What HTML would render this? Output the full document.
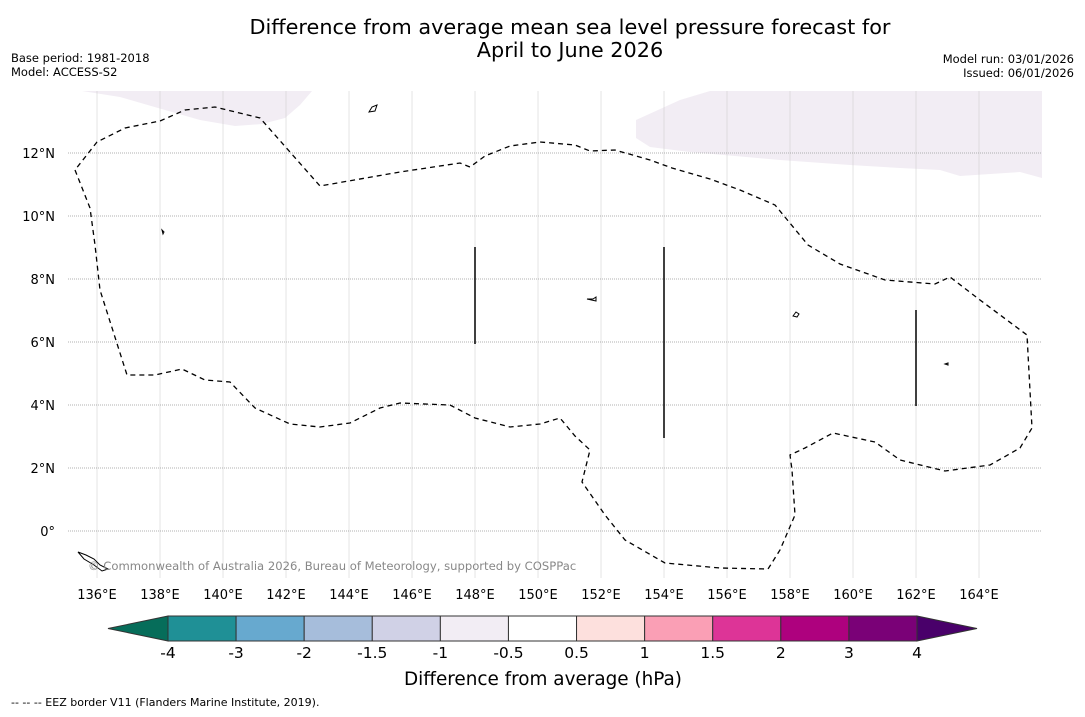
<!DOCTYPE html>
<html><head><meta charset="utf-8"><style>
body{margin:0;background:#fff;width:1085px;height:713px;overflow:hidden;font-family:"DejaVu Sans","Liberation Sans",sans-serif;}
</style></head><body>
<svg id="chart" width="1085" height="713" xmlns="http://www.w3.org/2000/svg" font-family="DejaVu Sans, Liberation Sans, sans-serif">
<text x="570" y="34" font-size="20.8" text-anchor="middle">Difference from average mean sea level pressure forecast for</text>
<text x="570" y="57" font-size="20.8" text-anchor="middle">April to June 2026</text>
<text x="11" y="62" font-size="11.5">Base period: 1981-2018</text>
<text x="11" y="76" font-size="11.5">Model: ACCESS-S2</text>
<text x="1074" y="63" font-size="11.5" text-anchor="end">Model run: 03/01/2026</text>
<text x="1074" y="77" font-size="11.5" text-anchor="end">Issued: 06/01/2026</text>
<g id="map">
<polygon fill="#f2edf4" points="710,91 1042,91 1042,178 1020,172 960,176 940,170 900,168 850,165 780,160 690,152 650,147 636,138 636,120 680,100"/>
<polygon fill="#f2edf4" points="82,91 312,91 300,105 285,118 262,124 235,126 200,120 165,110 120,97"/>
<g id="grid"></g>
<path fill="none" stroke="#000" stroke-width="1.3" stroke-dasharray="5,4" d="M75,170 L90,208 95,245 100,290 127,375 155,375 182,369 205,380 230,382 255,408 290,424 320,427 350,423 380,408 400,403 450,405 475,418 510,427 540,424 560,418 575,436 590,450 585,470 582,482 605,515 625,540 665,563 720,568 768,569 780,550 795,515 792,470 790,455 805,448 833,433 875,442 900,460 945,471 990,465 1020,448 1032,428 1027,335 980,300 950,277 935,284 885,280 840,264 808,245 775,205 740,190 710,179 672,168 650,160 615,150 590,151 575,145 540,142 510,146 485,156 470,167 460,163 400,172 320,186 297,160 260,118 215,107 185,110 160,121 125,128 97,142 75,170"/>
<g stroke="#000" stroke-width="1.5">
<line x1="475" y1="247" x2="475" y2="344"/><line x1="664" y1="247" x2="664" y2="438"/><line x1="916" y1="310" x2="916" y2="406"/>
</g>
<g fill="none" stroke="#000" stroke-width="1">
<path d="M369,112 l3,-5 5,-2 -2,6z"/><path d="M162,230 l2,2 -1,2z"/><path d="M587,299 l6,0 3,-2 0,4z"/><path d="M793,316 l3,-4 3,2 -2,3z"/><path d="M945,364 l3,-1 0,2z"/><path d="M78,552 l8,3 8,4 6,6 8,4 -6,2 -8,-6 -10,-6z"/>
</g>
<text x="88" y="570" font-size="11.6" fill="#888">© Commonwealth of Australia 2026, Bureau of Meteorology, supported by COSPPac</text>
</g>
<g id="axes"></g>
<g id="cbar"></g>
<text x="543" y="685" font-size="18.4" text-anchor="middle">Difference from average (hPa)</text>
<text x="11" y="706" font-size="11">--  --  -- EEZ border V11 (Flanders Marine Institute, 2019).</text>
</svg>
<script>
const lonTicks=[136,138,140,142,144,146,148,150,152,154,156,158,160,162,164];
const latTicks=[12,10,8,6,4,2,0];
const cbBounds=[-4,-3,-2,-1.5,-1,-0.5,0.5,1,1.5,2,3,4];
const cbColors=["#1f9096","#67a9cf","#a6bddb","#d0d1e6","#f2edf4","#ffffff","#fde0dd","#fa9fb5","#dd3497","#ae017e","#7a0177"];
const cbLow="#066d5a", cbHigh="#49006a";
const NS="http://www.w3.org/2000/svg";
const X0=68,X1=1042,Y0=91,Y1=578;
const xLon=l=>97+(l-136)*31.5;
const yLat=l=>531-l*31.5;
function mk(t,a,p){const e=document.createElementNS(NS,t);for(const k in a)e.setAttribute(k,a[k]);p.appendChild(e);return e;}
const grid=document.getElementById('grid'),axes=document.getElementById('axes'),cb=document.getElementById('cbar');
lonTicks.forEach(l=>{
 const g=mk('line',{x1:xLon(l),x2:xLon(l),y1:Y0,y2:Y1,stroke:'#c8c8c8','stroke-width':0.5},grid);
 
 
 const t=mk('text',{x:xLon(l),y:599,'font-size':13,'text-anchor':'middle'},axes);
 t.textContent=l+'°E';
 
 
});
latTicks.forEach(l=>{
 const g=mk('line',{x1:X0,x2:X1,y1:yLat(l),y2:yLat(l),stroke:'#999','stroke-width':0.8,'stroke-dasharray':'1,1'},grid);
 
 
 const t=mk('text',{x:55,y:yLat(l)+5,'font-size':13,'text-anchor':'end'},axes);
 t.textContent=l===0?'0°':l+'°N';
 
 
});
const CX0=168,CX1=917,CY=616,CH=25;
const step=(CX1-CX0)/(cbBounds.length-1);
const cx=i=>CX0+i*step;
const lowTri=mk('polygon',{points:`108,${CY+CH/2} ${CX0},${CY} ${CX0},${CY+CH}`,fill:cbLow,stroke:'#333','stroke-width':1},cb);


const hiTri=mk('polygon',{points:`977,${CY+CH/2} ${CX1},${CY} ${CX1},${CY+CH}`,fill:cbHigh,stroke:'#333','stroke-width':1},cb);


cbColors.forEach((c,i)=>{
 const r=mk('rect',{x:cx(i),y:CY,width:step,height:CH,fill:c,stroke:'#333','stroke-width':1},cb);
 
 
});
cbBounds.forEach((b,i)=>{
 const t=mk('text',{x:cx(i),y:658,'font-size':15.5,'text-anchor':'middle'},cb);
 t.textContent=b;
 
 
});
</script>
</body></html>
